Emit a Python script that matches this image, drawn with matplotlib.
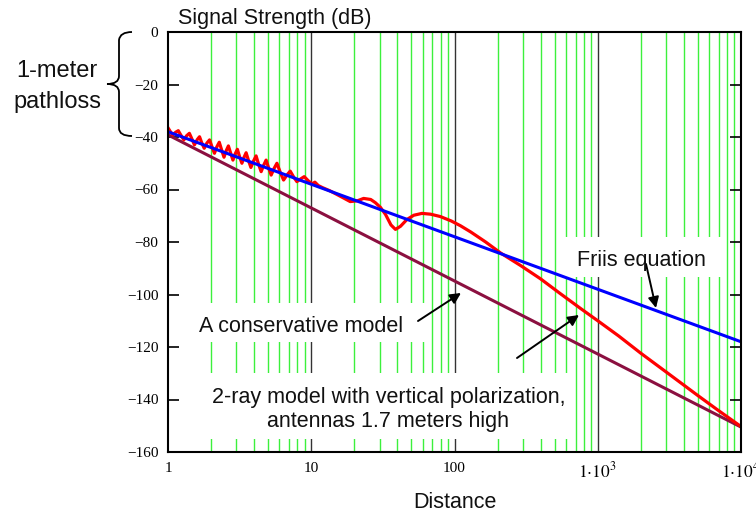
import matplotlib
matplotlib.use('Agg')
import matplotlib.pyplot as plt
from matplotlib.patches import Rectangle, PathPatch
from matplotlib.path import Path
from matplotlib.ticker import NullLocator, FixedLocator

plt.rcParams['mathtext.fontset'] = 'stix'

# ---------------- data ----------------
friis_d = [1, 1e4]
friis_db = [-38.0, -118.0]

conservative_d = [1, 1e4]
conservative_db = [-39.2, -150.5]

tworay_d = [1.00, 1.04, 1.08, 1.13, 1.18, 1.23, 1.29, 1.35, 1.41, 1.47, 1.53,
            1.60, 1.66, 1.72, 1.79, 1.87, 1.95, 2.03, 2.11, 2.19, 2.28, 2.37,
            2.46, 2.55, 2.64, 2.74, 2.84, 2.94, 3.05, 3.16, 3.28, 3.39, 3.51,
            3.65, 3.79, 3.95, 4.12, 4.29, 4.47, 4.65, 4.84, 5.04, 5.25, 5.50,
            5.76, 6.08, 6.41, 6.76, 7.13, 7.53, 7.94, 8.42, 8.93, 9.5, 10.1,
            10.6, 11.2, 12.0, 13.5, 15.0, 16.5, 18.7, 21.0, 23.2, 26.0, 28.0,
            30.4, 33.0, 36.0, 38.7, 42.0, 46.6, 52.0, 59.3, 68.0, 79.6, 95.0,
            110, 130, 165, 210, 290, 398, 552, 762, 1000, 1400, 1990,
            3000, 5000, 7000, 10000]
tworay_db = [-36.5, -38.0, -39.2, -38.2, -37.6, -39.3, -41.1, -39.5, -38.6, -40.8, -43.0,
             -41.0, -39.9, -42.2, -44.3, -42.3, -41.1, -43.8, -46.2, -43.8, -42.0, -45.0,
             -47.7, -45.2, -43.4, -46.2, -48.8, -46.5, -44.7, -47.5, -50.0, -47.8, -46.0,
             -49.0, -51.6, -49.2, -47.2, -50.4, -53.2, -50.8, -48.8, -51.8, -54.5, -52.0,
             -50.0, -53.5, -56.4, -54.5, -53.0, -55.2, -57.0, -56.0, -55.1, -56.6, -57.9,
             -57.2, -58.5, -59.3, -60.5, -61.8, -63.0, -64.6, -64.3, -63.4, -63.8, -65.0,
             -66.8, -69.5, -73.5, -75.2, -74.0, -71.4, -69.8, -69.1, -69.4, -70.3, -72.0,
             -73.8, -76.2, -80.0, -84.2, -89.0, -94.0, -99.8, -105.4, -110.0,
             -115.8, -122.3, -129.5, -138.5, -144.3, -150.3]

y_ticks = [0, -20, -40, -60, -80, -100, -120, -140, -160]
y_tick_labels = ['0', '\u221220', '\u221240', '\u221260', '\u221280', '\u2212100',
                 '\u2212120', '\u2212140', '\u2212160']
x_ticks = [1, 10, 100, 1000, 10000]
x_tick_labels = ['1', '10', '100', r'$1{\cdot}10^{3}$', r'$1{\cdot}10^{4}$']
decades = [1, 10, 100, 1000]
minor_mult = [2, 3, 4, 5, 6, 7, 8, 9]

# ---------------- figure ----------------
W, H = 756, 514
fig = plt.figure(figsize=(W / 100, H / 100), dpi=100)
ax = fig.add_axes([168 / W, 1 - 452 / H, (741 - 168) / W, (452 - 32) / H])
ax.set_xscale('log')

for dec in decades:
    for k in minor_mult:
        ax.axvline(k * dec, color='#3cf03c', lw=1.0, zorder=1)
for dec in x_ticks[1:-1]:
    ax.axvline(dec, color='#333333', lw=1.0, zorder=1)


def px_rect(x0, y0, x1, y1):
    r = Rectangle((x0 / W, 1 - y1 / H), (x1 - x0) / W, (y1 - y0) / H,
                  transform=fig.transFigure, facecolor='white',
                  edgecolor='none', zorder=2, clip_on=False)
    ax.add_artist(r)


px_rect(563, 237, 722, 277)   # Friis box
px_rect(195, 303, 427, 342)   # conservative box
px_rect(195, 373, 572, 439)   # 2-ray box

ax.plot(conservative_d, conservative_db, color='#8b1040', lw=2.2, zorder=3)
ax.plot(tworay_d, tworay_db, color='#ff0000', lw=2.3, zorder=3,
        solid_joinstyle='round')
ax.plot(friis_d, friis_db, color='#0000ff', lw=2.2, zorder=4)

ax.set_xlim(1, 1e4)
ax.set_ylim(-160, 0)

ax.xaxis.set_major_locator(FixedLocator(x_ticks))
ax.xaxis.set_minor_locator(NullLocator())
ax.set_xticklabels(x_tick_labels)
ax.set_yticks(y_ticks)
ax.set_yticklabels(y_tick_labels)
for lab in ax.get_xticklabels() + ax.get_yticklabels():
    lab.set_fontfamily('Liberation Serif')
    lab.set_fontsize(11)
for lab in ax.get_xticklabels()[3:]:
    lab.set_fontsize(12.5)
ax.tick_params(axis='y', direction='in', length=8, width=1.2, left=True,
               right=True, pad=7, colors='black')
ax.tick_params(axis='x', length=0, pad=7)
for s in ax.spines.values():
    s.set_linewidth(1.5)
    s.set_color('black')
    s.set_zorder(5)

sans = 'Liberation Sans'


def ftext(x, y, s, size=15.5, ha='center', va='baseline'):
    fig.text(x / W, 1 - y / H, s, fontsize=size, family=sans, ha=ha, va=va,
             color='#111111', zorder=6)


ftext(178, 24, 'Signal Strength (dB)', ha='left')
ftext(455, 508, 'Distance')
ftext(641, 266, 'Friis equation')
ftext(301.5, 332, 'A conservative model')
ftext(388.5, 403, '2-ray model with vertical polarization,')
ftext(388.5, 427, 'antennas 1.7 meters high')
ftext(57, 77, '1-meter', size=17)
ftext(57, 108, 'pathloss', size=17)


def arrow(tail, tip):
    ax.annotate('', xy=(tip[0], H - tip[1]), xytext=(tail[0], H - tail[1]),
                xycoords='figure pixels', textcoords='figure pixels',
                arrowprops=dict(arrowstyle='-|>', color='black', lw=1.4,
                                mutation_scale=16, shrinkA=0, shrinkB=0),
                annotation_clip=False, zorder=7)


arrow((418, 321), (461, 293))
arrow((517, 358), (579, 315))
arrow((646, 264), (656, 308))

# curly brace
pts = [(132, 32), (120, 32), (119, 40), (119, 76), (119, 84), (107, 84),
       (119, 84), (119, 92), (119, 128), (119, 136), (132, 136)]
codes = [Path.MOVETO, Path.CURVE3, Path.CURVE3, Path.LINETO, Path.CURVE3,
         Path.CURVE3, Path.CURVE3, Path.CURVE3, Path.LINETO, Path.CURVE3,
         Path.CURVE3]
verts = [(x / W, 1 - y / H) for x, y in pts]
brace = PathPatch(Path(verts, codes), transform=fig.transFigure,
                  facecolor='none', edgecolor='black', lw=1.3)
fig.add_artist(brace)

fig.savefig('out.png', dpi=100)
